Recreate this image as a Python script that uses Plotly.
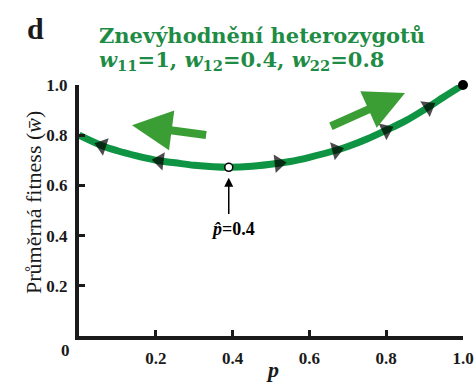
import plotly.graph_objects as go

# Data
p_vals = [0.0, 0.06, 0.1, 0.15, 0.21, 0.25, 0.3, 0.35, 0.39, 0.45, 0.52, 0.55,
          0.6, 0.67, 0.7, 0.75, 0.8, 0.85, 0.91, 0.95, 1.0]
w_vals = [0.80, 0.758, 0.738, 0.718, 0.698, 0.690, 0.680, 0.674, 0.672, 0.676,
          0.688, 0.695, 0.712, 0.740, 0.755, 0.785, 0.820, 0.857, 0.912, 0.952, 1.0]
left_arrow_p = [0.06, 0.21]
right_arrow_p = [0.52, 0.67, 0.8, 0.91]
p_hat = 0.39
w_hat = 0.672
x_ticks = [0.2, 0.4, 0.6, 0.8, 1.0]
x_ticktext = ["0.2", "0.4", "0.6", "0.8", "1.0"]
y_ticks = [0.2, 0.4, 0.6, 0.8, 1.0]
y_ticktext = ["0.2", "0.4", "0.6", "0.8", "1.0"]

CURVE = "#0f9444"
TITLE_G = "#1f8c45"
ARROW_G = "#3a9e35"
INK = "#1a1a1a"
SERIF = '"Liberation Serif", "DejaVu Serif", serif'
WIDE_SERIF = '"DejaVu Serif", "Liberation Serif", serif'

fig = go.Figure()
fig.add_trace(go.Scatter(x=p_vals, y=w_vals, mode="lines",
                         line=dict(color=CURVE, width=7, shape="spline"),
                         hoverinfo="skip", cliponaxis=False))

i_hat = p_vals.index(p_hat)
left_p = p_vals[i_hat::-1]
left_w = w_vals[i_hat::-1]
right_p = p_vals[i_hat:]
right_w = w_vals[i_hat:]

for xs, ys, marks in [(left_p, left_w, left_arrow_p), (right_p, right_w, right_arrow_p)]:
    sizes = [16 if x in marks else 0 for x in xs]
    fig.add_trace(go.Scatter(x=xs, y=ys, mode="markers",
                             marker=dict(symbol="triangle-up", size=sizes, color="black",
                                         angleref="previous", line=dict(width=0)),
                             hoverinfo="skip", cliponaxis=False))

# equilibrium point and end point
fig.add_trace(go.Scatter(x=[p_hat], y=[w_hat], mode="markers",
                         marker=dict(symbol="circle", size=8, color="white",
                                     line=dict(color="black", width=1.5)),
                         hoverinfo="skip", cliponaxis=False))
fig.add_trace(go.Scatter(x=[p_vals[-1]], y=[w_vals[-1]], mode="markers",
                         marker=dict(symbol="circle", size=10, color="black"),
                         hoverinfo="skip", cliponaxis=False))

W, H = 476, 383
L, R, T, B = 79, 13, 85, 47
pw, ph = W - L - R, H - T - B


def px(xp, yp):
    return (xp - L) / pw, (H - B - yp) / ph


anns = []
# big direction arrows
anns.append(dict(x=0.138, y=0.84, ax=0.335, ay=0.80, xref="x", yref="y",
                 axref="x", ayref="y", text="", showarrow=True, arrowhead=2,
                 arrowsize=1.0, arrowwidth=8, arrowcolor=ARROW_G))
anns.append(dict(x=0.849, y=0.968, ax=0.652, ay=0.833, xref="x", yref="y",
                 axref="x", ayref="y", text="", showarrow=True, arrowhead=2,
                 arrowsize=1.0, arrowwidth=8, arrowcolor=ARROW_G))
# p-hat arrow
anns.append(dict(x=p_hat, y=0.63, ax=p_hat, ay=0.48, xref="x", yref="y",
                 axref="x", ayref="y", text="", showarrow=True, arrowhead=2,
                 arrowsize=1.2, arrowwidth=1.5, arrowcolor="black"))
anns.append(dict(x=0.40, y=0.426, xref="x", yref="y", showarrow=False,
                 xanchor="center", yanchor="middle",
                 text="<i>p̂</i>=0.4",
                 font=dict(family=SERIF, size=18, color="black", weight="bold")))


def label(xp, yp, text, size, color=INK, bold=True, xanchor="center", angle=0, family=SERIF):
    x, y = px(xp, yp)
    anns.append(dict(x=x, y=y, xref="paper", yref="paper", showarrow=False,
                     xanchor=xanchor, yanchor="middle", textangle=angle, text=text,
                     font=dict(family=family, size=size, color=color,
                               weight="bold" if bold else "normal")))


label(35, 29, "d", 30)
label(97, 36, "Znevýhodnění heterozygotů", 21, TITLE_G, xanchor="left", family=WIDE_SERIF)
label(97, 60, "<i>w</i><sub>11</sub>=1, <i>w</i><sub>12</sub>=0.4, <i>w</i><sub>22</sub>=0.8",
      21, TITLE_G, xanchor="left", family=WIDE_SERIF)
label(33, 203, "Průměrná fitness (<i>w̄</i>)", 22, bold=False, angle=-90)
label(272, 370, "<i>p</i>", 22)
label(65, 350, "0", 17)

axis_common = dict(range=[0, 1], showgrid=False, zeroline=False, automargin=False,
                   showline=True, linecolor=INK, linewidth=4,
                   ticks="inside", ticklen=6, tickwidth=3, tickcolor=INK,
                   ticklabelstandoff=4,
                   tickfont=dict(family=SERIF, size=17, color=INK, weight="bold"))

fig.update_layout(
    width=W, height=H,
    margin=dict(l=L, r=R, t=T, b=B, pad=0, autoexpand=False),
    paper_bgcolor="white", plot_bgcolor="white",
    showlegend=False,
    annotations=anns,
    xaxis=dict(tickvals=x_ticks, ticktext=x_ticktext, **axis_common),
    yaxis=dict(tickvals=y_ticks, ticktext=y_ticktext, **axis_common),
)

fig.write_html("out.html", config={"displayModeBar": False},
               post_script="document.body.style.margin='0px';")
